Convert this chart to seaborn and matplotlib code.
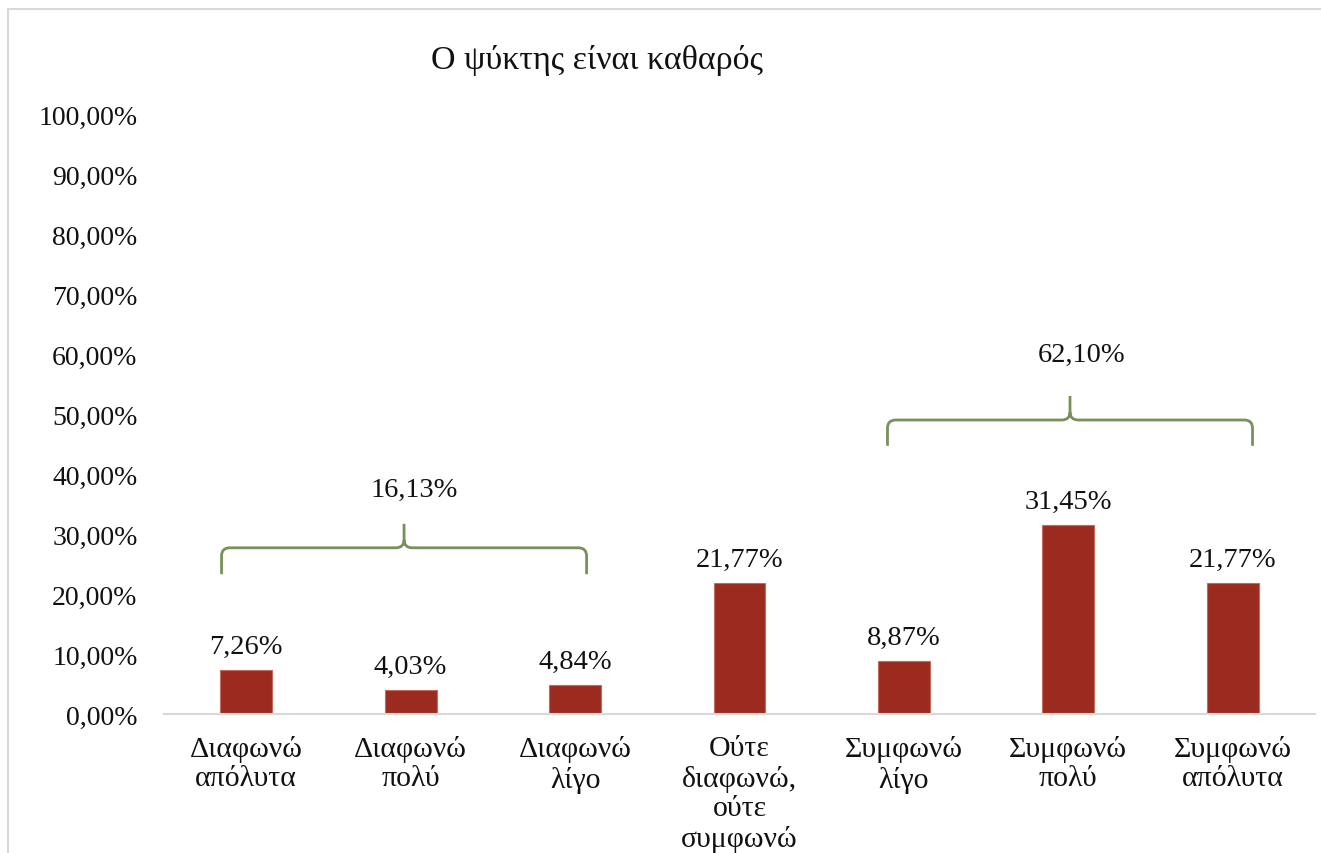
import matplotlib
matplotlib.use("Agg")
import matplotlib.pyplot as plt
import seaborn as sns
from matplotlib.path import Path
from matplotlib.patches import PathPatch, Rectangle
from matplotlib.ticker import FuncFormatter

# data
categories = ["Διαφωνώ\nαπόλυτα", "Διαφωνώ\nπολύ", "Διαφωνώ\nλίγο",
              "Ούτε\nδιαφωνώ,\nούτε\nσυμφωνώ",
              "Συμφωνώ\nλίγο", "Συμφωνώ\nπολύ", "Συμφωνώ\nαπόλυτα"]
values = [7.26, 4.03, 4.84, 21.77, 8.87, 31.45, 21.77]
group_totals = [16.13, 62.10]
title = "Ο ψύκτης είναι καθαρός"

bar_color = "#9B2B1F"
brace_color = "#76925A"
fnt = "Liberation Serif"

sns.set_theme(style="white")
plt.rcParams["font.family"] = [fnt, "DejaVu Serif"]

fig = plt.figure(figsize=(13.21, 8.54), dpi=100)
ax = fig.add_axes([164 / 1321, 1 - 715 / 854, (1315 - 164) / 1321, 600 / 854])

sns.barplot(x=categories, y=values, color=bar_color, saturation=1, width=0.315,
            edgecolor="#C46A5E", linewidth=0.8, ax=ax)

ax.set_ylim(0, 100)
ax.set_xlim(-0.5, len(categories) - 0.5)
ax.set_yticks(range(0, 101, 10))
ax.yaxis.set_major_formatter(FuncFormatter(lambda v, p: f"{v:.2f}%".replace(".", ",")))
ax.tick_params(axis="y", length=0, pad=19, labelsize=20, colors="#111111")
ax.tick_params(axis="x", length=0, pad=15, labelsize=21.5, colors="#111111")
for lab in ax.get_xticklabels():
    lab.set_linespacing(1.18)
ax.set_xlabel("")
ax.set_ylabel("")
for s in ["top", "right", "left"]:
    ax.spines[s].set_visible(False)
ax.spines["bottom"].set_color("#D9D9D9")
ax.spines["bottom"].set_linewidth(1.5)

# value labels
for i, v in enumerate(values):
    ax.annotate(f"{v:.2f}%".replace(".", ","), (i, v), xytext=(0, 8),
                textcoords="offset points", ha="center", va="bottom",
                fontsize=20.5, color="#111111")


def brace(x0, x1, xm, y_end, y_line, y_tip, rx=0.05, ry=1.35):
    verts = [(x0, y_end), (x0, y_line - ry), (x0, y_line), (x0 + rx, y_line),
             (xm - rx, y_line), (xm, y_line), (xm, y_line + ry), (xm, y_tip),
             (xm, y_line + ry), (xm, y_line), (xm + rx, y_line),
             (x1 - rx, y_line), (x1, y_line), (x1, y_line - ry), (x1, y_end)]
    codes = [Path.MOVETO, Path.LINETO, Path.CURVE3, Path.CURVE3,
             Path.LINETO, Path.CURVE3, Path.CURVE3, Path.LINETO,
             Path.MOVETO, Path.CURVE3, Path.CURVE3,
             Path.LINETO, Path.CURVE3, Path.CURVE3, Path.LINETO]
    ax.add_patch(PathPatch(Path(verts, codes), fill=False, edgecolor=brace_color,
                           linewidth=2, clip_on=False))


# group braces (layout positions)
brace(-0.15, 2.07, 0.96, 23.3, 27.7, 31.7)
brace(3.90, 6.12, 5.01, 44.7, 49.0, 53.0)
ax.text(1.02, 37.5, f"{group_totals[0]:.2f}%".replace(".", ","), ha="center",
        va="center", fontsize=20.5, color="#111111")
ax.text(5.08, 60.0, f"{group_totals[1]:.2f}%".replace(".", ","), ha="center",
        va="center", fontsize=20.5, color="#111111")

fig.text(597 / 1321, 1 - 60 / 854, title, ha="center", va="center",
         fontsize=24.5, color="#111111")

# chart frame (cropped at right and bottom)
fig.patches.append(Rectangle((8 / 1321, -0.1), 1.2, 1 - 10 / 854 + 0.1,
                             transform=fig.transFigure, fill=False,
                             edgecolor="#D9D9D9", linewidth=1.5))

fig.savefig("out.png", dpi=100)
